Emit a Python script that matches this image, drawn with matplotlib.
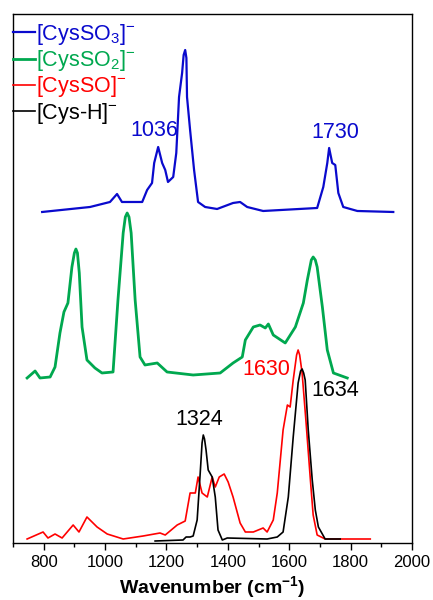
import matplotlib
matplotlib.use("Agg")
import matplotlib.pyplot as plt

plt.rcParams["font.family"] = ["Liberation Sans", "DejaVu Sans"]
plt.rcParams["mathtext.fontset"] = "custom"
plt.rcParams["mathtext.rm"] = "Liberation Sans"
plt.rcParams["mathtext.it"] = "Liberation Sans:italic"
plt.rcParams["mathtext.bf"] = "Liberation Sans:bold"

# Stacked spectra, intensities in offset display units
so3_wn = [795, 951, 1016, 1039, 1055, 1121, 1137, 1153, 1160, 1173, 1186, 1196, 1205,
          1222, 1232, 1241, 1251, 1256, 1261, 1265, 1267, 1277, 1290, 1303, 1326, 1365,
          1417, 1440, 1463, 1515, 1691, 1711, 1724, 1730, 1740, 1750, 1760, 1776, 1822,
          1939]
so3_int = [331, 336, 341, 349, 341, 341, 353, 360, 380, 396, 380, 373, 361,
           366, 390, 446, 470, 488, 493, 485, 446, 413, 373, 341, 336, 334,
           340, 341, 336, 332, 335, 356, 380, 395, 380, 378, 350, 336, 332,
           331]

so2_wn = [746, 772, 788, 821, 837, 853, 866, 879, 892, 900, 905, 910, 916, 925, 941,
          967, 990, 1026, 1042, 1059, 1066, 1072, 1078, 1085, 1098, 1114, 1130, 1170,
          1202, 1287, 1375, 1417, 1447, 1457, 1483, 1505, 1522, 1532, 1548, 1587, 1620,
          1646, 1659, 1672, 1678, 1685, 1691, 1708, 1724, 1744, 1789]
so2_int = [165, 172, 165, 166, 176, 210, 231, 240, 276, 290, 294, 290, 270, 216, 183,
           175, 170, 171, 243, 310, 326, 330, 326, 310, 243, 186, 178, 180,
           171, 168, 170, 180, 186, 203, 216, 218, 215, 219, 208, 200, 216,
           240, 263, 283, 286, 283, 276, 236, 193, 170, 165]

so_wn = [746, 798, 814, 837, 860, 896, 915, 941, 974, 1007, 1059, 1124, 1179, 1196,
         1235, 1261, 1277, 1294, 1303, 1316, 1333, 1349, 1359, 1372, 1388, 1401, 1417,
         1440, 1457, 1483, 1515, 1528, 1548, 1561, 1580, 1594, 1603, 1613, 1624, 1629,
         1634, 1642, 1655, 1669, 1678, 1691, 1717, 1864]
so_int = [4, 11, 5, 9, 5, 18, 11, 26, 16, 9, 4, 7, 10, 8,
          18, 22, 50, 50, 66, 50, 46, 66, 56, 66, 69, 61, 46,
          20, 11, 11, 15, 11, 23, 50, 113, 138, 136, 163, 188, 193,
          188, 170, 120, 63, 28, 8, 4, 4]

cysh_wn = [1163, 1254, 1264, 1277, 1287, 1300, 1310, 1316, 1320, 1324, 1329, 1336,
           1349, 1359, 1368, 1382, 1398, 1528, 1561, 1580, 1597, 1613, 1629, 1637,
           1642, 1647, 1652, 1662, 1675, 1685, 1695, 1717, 1766]
cysh_int = [2, 3, 6, 6, 7, 23, 70, 100, 108, 104, 93, 73,
            66, 46, 13, 3, 5, 4, 6, 11, 46, 106, 160, 172,
            174, 170, 163, 113, 63, 33, 16, 4, 4]

labels = [r"[CysSO$_3$]$^{-}$", r"[CysSO$_2$]$^{-}$", r"[CysSO]$^{-}$", r"[Cys-H]$^{-}$"]
colors = ["#0A0ACD", "#00A84F", "#FF0000", "#000000"]

fig = plt.figure(figsize=(4.33, 6.0), dpi=100)
ax = fig.add_axes([0.030, 0.095, 0.9215, 0.8817])

ax.plot(so3_wn, so3_int, color=colors[0], lw=1.6, label=labels[0])
ax.plot(so2_wn, so2_int, color=colors[1], lw=2.0, label=labels[1])
ax.plot(so_wn, so_int, color=colors[2], lw=1.2, label=labels[2])
ax.plot(cysh_wn, cysh_int, color=colors[3], lw=1.2, label=labels[3])

# peak labels
ax.text(1160, 412, "1036", color=colors[0], fontsize=15.5, ha="center", va="center")
ax.text(1750, 410, "1730", color=colors[0], fontsize=15.5, ha="center", va="center")
ax.text(1525, 173, "1630", color=colors[2], fontsize=15.5, ha="center", va="center")
ax.text(1750, 152, "1634", color=colors[3], fontsize=15.5, ha="center", va="center")
ax.text(1307, 123, "1324", color=colors[3], fontsize=15.5, ha="center", va="center")

ax.set_xlim(700, 2000)
ax.set_ylim(0, 529)
ax.set_xticks([800, 1000, 1200, 1400, 1600, 1800, 2000])
ax.set_xticks(range(700, 2001, 100), minor=True)
ax.set_yticks([])
ax.tick_params(axis="x", which="major", direction="out", length=5, width=1, labelsize=12)
ax.tick_params(axis="x", which="minor", direction="out", length=3, width=1)
for s in ax.spines.values():
    s.set_linewidth(1.0)

ax.set_xlabel(r"Wavenumber (cm$^{\mathbf{-1}}$)", fontsize=14, fontweight="bold", labelpad=3)

leg = ax.legend(loc="upper left", bbox_to_anchor=(0.0, 0.985), frameon=False,
                fontsize=15.5, handlelength=1.0, handletextpad=0.08,
                borderaxespad=0, borderpad=0, labelspacing=0.06, labelcolor="linecolor")

fig.savefig("out.png", dpi=100)
